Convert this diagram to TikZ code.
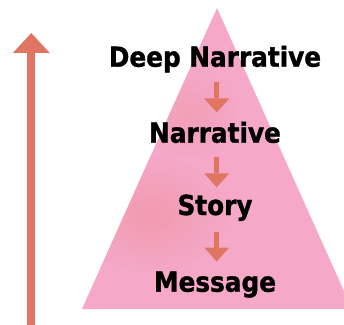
\documentclass[tikz,border=0pt]{standalone}
\usepackage{fontspec}
\setmainfont{DejaVu Sans}
\newfontfamily\heavyfont{DejaVu Sans Bold}[FakeBold=1.3]
\usetikzlibrary{arrows.meta}
\definecolor{arrowc}{HTML}{E07562}
\definecolor{pinkc}{HTML}{F5A8C8}
\definecolor{coralc}{HTML}{F0919E}
\tikzset{
  lbl/.style={inner sep=0pt, text height=20pt, text depth=0pt, anchor=base,
    font=\heavyfont\fontsize{27.5}{29}\selectfont},
  smallarr/.style={draw=arrowc, line width=5pt,
    -{Triangle[width=25pt,length=14pt,line width=0pt]}},
  bigarr/.style={draw=arrowc, line width=8pt,
    -{Triangle[width=37pt,length=20pt,line width=0pt]}}
}
\begin{document}
\begin{tikzpicture}[x=1pt,y=1pt]
\useasboundingbox (0,0) rectangle (344,324);
% triangle
\begin{scope}
  \clip (0,0) rectangle (344,324);
  \path[fill=pinkc] (82,15) -- (217,316) -- (352,15) -- cycle;
  \clip (82,15) -- (217,316) -- (352,15) -- cycle;
  \shade[inner color=coralc, outer color=pinkc, opacity=0.6] (150,110) ellipse (80 and 60);
  \shade[inner color=coralc, outer color=pinkc, opacity=0.4] (190,210) ellipse (50 and 45);
\end{scope}
% texts
\node[lbl] (dn) at (215,257.3) {\scalebox{0.9}[1]{Deep Narrative}};
\node[lbl] (n) at (215,181.3) {\scalebox{0.9}[1]{Narrative}};
\node[lbl] (s) at (215,109) {\scalebox{0.9}[1]{Story}};
\node[lbl] (m) at (215,32.3) {\scalebox{0.9}[1]{Message}};
% small arrows
\draw[smallarr, shorten <=15pt, shorten >=10pt] ([xshift=1.7pt]dn.south) -- ([xshift=1.7pt]n.north);
\draw[smallarr, shorten <=14pt, shorten >=7.5pt] ([xshift=1.7pt]n.south) -- ([xshift=1.7pt]s.north);
\draw[smallarr, shorten <=16.5pt, shorten >=10pt] ([xshift=1.7pt]s.south) -- ([xshift=1.7pt]m.north);
% big arrow
\coordinate (bb) at (31.3,-2);
\coordinate (bt) at (31.3,291);
\draw[bigarr] (bb) -- (bt);
\end{tikzpicture}
\end{document}
